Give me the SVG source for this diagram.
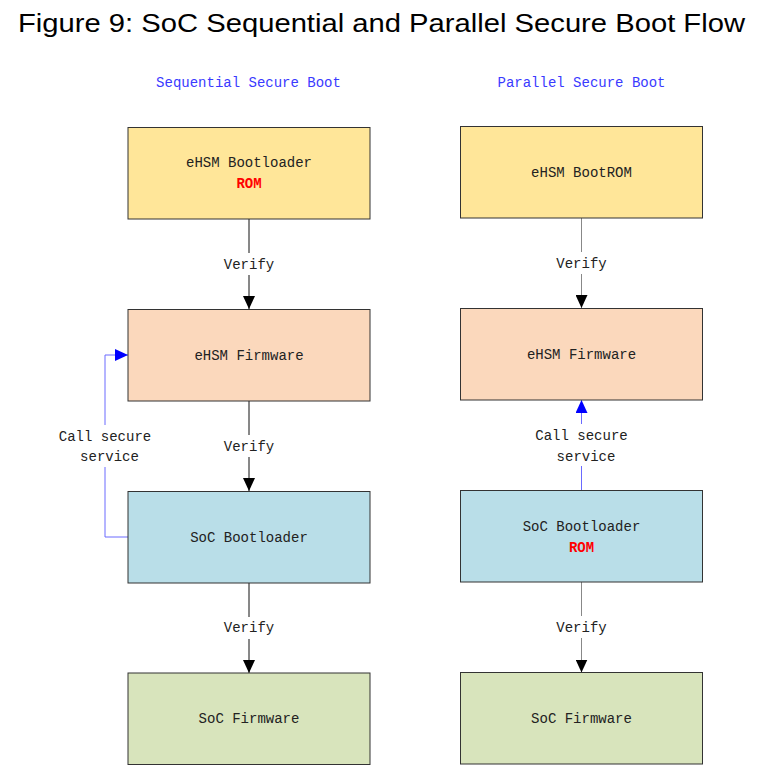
<svg xmlns="http://www.w3.org/2000/svg" width="775" height="772" viewBox="0 0 775 772">
<style>
.title{font-family:"Liberation Sans",Arial,sans-serif;font-size:25.5px;fill:#000}
.t{font-family:"Liberation Mono","DejaVu Sans Mono",monospace;font-size:14px;fill:#222;text-anchor:middle;dominant-baseline:central}
.sub{fill:#3a3aff}
.rom{fill:#ff0000;font-weight:bold}
.box{stroke:#333;stroke-width:1}
.y{fill:#ffe699}.o{fill:#fbd8bc}.b{fill:#b9dee8}.g{fill:#d8e4bc}
.k{stroke:#111;stroke-width:1;fill:none}
.kg{stroke:#888;stroke-width:1;fill:none}
.bl{stroke:#6a6aff;stroke-width:1;fill:none}
</style>
<defs>
<marker id="a" markerUnits="userSpaceOnUse" markerWidth="14" markerHeight="12" viewBox="0 0 14 12" refX="13" refY="6" orient="auto">
<path d="M0 0 L13 6 L0 12 Z" fill="#000"/>
</marker>
<marker id="ab" markerUnits="userSpaceOnUse" markerWidth="14" markerHeight="12" viewBox="0 0 14 12" refX="13" refY="6" orient="auto">
<path d="M0 0 L13 6 L0 12 Z" fill="#0000ff"/>
</marker>
</defs>
<rect width="775" height="772" fill="#fff"/>
<text class="title" x="18" y="32" textLength="727" lengthAdjust="spacingAndGlyphs">Figure 9: SoC Sequential and Parallel Secure Boot Flow</text>
<text class="t sub" x="248.5" y="82.5">Sequential Secure Boot</text>
<text class="t sub" x="581.5" y="82.5">Parallel Secure Boot</text>

<g id="connectors">
<path class="k" d="M249 219 V253 M249 275 V309" marker-end="url(#a)"/>
<text class="t" x="249" y="264.5">Verify</text>
<path class="k" d="M249 401 V435 M249 457 V491" marker-end="url(#a)"/>
<text class="t" x="249" y="446.5">Verify</text>
<path class="k" d="M249 583 V617 M249 639 V673" marker-end="url(#a)"/>
<text class="t" x="249" y="627.5">Verify</text>
<path class="bl" d="M128 537 H105 V467 M105 425 V355 H128" marker-end="url(#ab)"/>
<text class="t" x="105" y="436.5">Call secure</text>
<text class="t" x="109.5" y="456.5">service</text>

<path class="kg" d="M581.5 218 V252 M581.5 274 V308" marker-end="url(#a)"/>
<text class="t" x="581.5" y="263.5">Verify</text>
<path class="kg" d="M581.5 582 V616 M581.5 638 V672.5" marker-end="url(#a)"/>
<text class="t" x="581.5" y="627.5">Verify</text>
<path class="bl" d="M581.5 490 V466 M581.5 424 V400" marker-end="url(#ab)"/>
<text class="t" x="581.5" y="435.5">Call secure</text>
<text class="t" x="586" y="456.5">service</text>
</g>

<g id="seq-ehsm-bootloader">
<rect class="box y" x="128" y="127.5" width="242" height="91.5"/>
<text class="t" x="249" y="162.5">eHSM Bootloader</text>
<text class="t rom" x="249" y="183.5">ROM</text>
</g>
<g id="seq-ehsm-firmware">
<rect class="box o" x="128" y="309.5" width="242" height="91.5"/>
<text class="t" x="249" y="355.5">eHSM Firmware</text>
</g>
<g id="seq-soc-bootloader">
<rect class="box b" x="128" y="491.5" width="242" height="91.5"/>
<text class="t" x="249" y="537.5">SoC Bootloader</text>
</g>
<g id="seq-soc-firmware">
<rect class="box g" x="128" y="673" width="242" height="91.5"/>
<text class="t" x="249" y="718.5">SoC Firmware</text>
</g>

<g id="par-ehsm-bootrom">
<rect class="box y" x="460.5" y="126.5" width="242" height="91.5"/>
<text class="t" x="581.5" y="172.5">eHSM BootROM</text>
</g>
<g id="par-ehsm-firmware">
<rect class="box o" x="460.5" y="308.5" width="242" height="91.5"/>
<text class="t" x="581.5" y="354.5">eHSM Firmware</text>
</g>
<g id="par-soc-bootloader">
<rect class="box b" x="460.5" y="490.5" width="242" height="91.5"/>
<text class="t" x="581.5" y="526.5">SoC Bootloader</text>
<text class="t rom" x="581.5" y="547.5">ROM</text>
</g>
<g id="par-soc-firmware">
<rect class="box g" x="460.5" y="672.5" width="242" height="91.5"/>
<text class="t" x="581.5" y="718.5">SoC Firmware</text>
</g>
</svg>
